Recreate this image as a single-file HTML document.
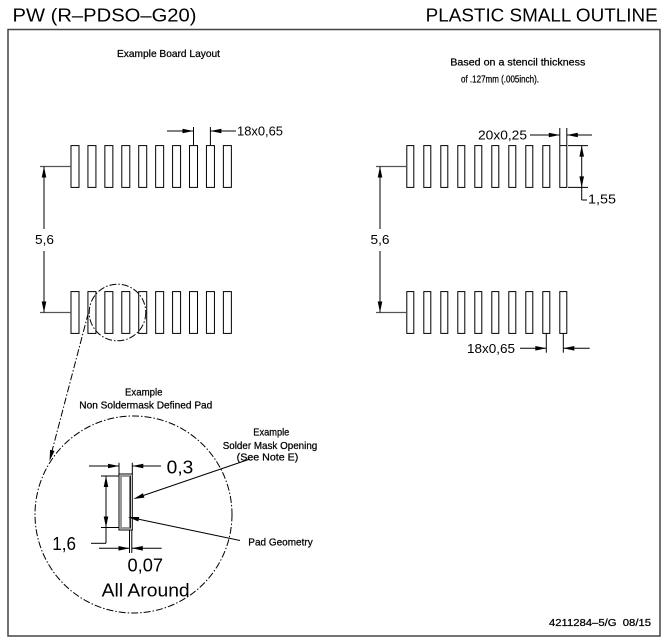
<!DOCTYPE html>
<html>
<head>
<meta charset="utf-8">
<style>
html,body{margin:0;padding:0;background:#fff;}
svg{display:block;}
text{font-family:"Liberation Sans",sans-serif;fill:#000;}
.big{font-size:18.7px;}
.dim{font-size:13px;}
.sm{font-size:10.3px;stroke:#000;stroke-width:0.25px;}
.ln{stroke:#000;stroke-width:1;fill:none;}
.gl{stroke:#555;stroke-width:1.3;fill:none;}
.pad{stroke:#000;stroke-width:1;fill:none;}
.dd{stroke:#000;stroke-width:1;fill:none;stroke-dasharray:7,2,1.5,2;}
</style>
</head>
<body>
<svg width="667" height="641" viewBox="0 0 667 641" xmlns="http://www.w3.org/2000/svg">
<rect x="0" y="0" width="667" height="641" fill="#fff"/>
<!-- titles -->
<text class="big" x="12.5" y="21.7" textLength="184" lengthAdjust="spacingAndGlyphs">PW (R–PDSO–G20)</text>
<text class="big" x="425.7" y="21.7" textLength="232" lengthAdjust="spacingAndGlyphs">PLASTIC SMALL OUTLINE</text>
<!-- border -->
<rect x="8" y="29.5" width="652" height="606.5" fill="none" stroke="#444" stroke-width="1.5"/>

<text class="sm" x="117" y="57" textLength="103" lengthAdjust="spacingAndGlyphs">Example Board Layout</text>
<text class="sm" x="450.3" y="65.5" textLength="135" lengthAdjust="spacingAndGlyphs">Based on a stencil thickness</text>
<text class="sm" x="461" y="82.5" textLength="78" lengthAdjust="spacingAndGlyphs">of .127mm (.005inch).</text>

<!-- left pads -->
<g class="pad">
<rect x="71" y="145.6" width="8" height="41.8"/>
<rect x="87.93" y="145.6" width="8" height="41.8"/>
<rect x="104.86" y="145.6" width="8" height="41.8"/>
<rect x="121.79" y="145.6" width="8" height="41.8"/>
<rect x="138.72" y="145.6" width="8" height="41.8"/>
<rect x="155.65" y="145.6" width="8" height="41.8"/>
<rect x="172.58" y="145.6" width="8" height="41.8"/>
<rect x="189.51" y="145.6" width="8" height="41.8"/>
<rect x="206.44" y="145.6" width="8" height="41.8"/>
<rect x="223.37" y="145.6" width="8" height="41.8"/>
<rect x="71" y="291.6" width="8" height="41.8"/>
<rect x="87.93" y="291.6" width="8" height="41.8"/>
<rect x="104.86" y="291.6" width="8" height="41.8"/>
<rect x="121.79" y="291.6" width="8" height="41.8"/>
<rect x="138.72" y="291.6" width="8" height="41.8"/>
<rect x="155.65" y="291.6" width="8" height="41.8"/>
<rect x="172.58" y="291.6" width="8" height="41.8"/>
<rect x="189.51" y="291.6" width="8" height="41.8"/>
<rect x="206.44" y="291.6" width="8" height="41.8"/>
<rect x="223.37" y="291.6" width="8" height="41.8"/>
</g>

<!-- left 5,6 -->
<line class="gl" x1="40" y1="166.5" x2="71" y2="166.5"/>
<line class="gl" x1="40" y1="312.5" x2="71" y2="312.5"/>
<line class="ln" x1="44" y1="166.5" x2="44" y2="229"/>
<line class="ln" x1="44" y1="251" x2="44" y2="312.5"/>
<polygon points="44,166.5 41.7,177.5 46.3,177.5"/>
<polygon points="44,312.5 41.7,301.5 46.3,301.5"/>
<text class="dim" x="35" y="244" textLength="19" lengthAdjust="spacingAndGlyphs">5,6</text>

<!-- top 18x0,65 -->
<line class="ln" x1="193.5" y1="127" x2="193.5" y2="145"/>
<line class="ln" x1="210.4" y1="127" x2="210.4" y2="145"/>
<line class="ln" x1="167" y1="131" x2="193.5" y2="131"/>
<polygon points="193.5,131 182.5,128.7 182.5,133.3"/>
<line class="ln" x1="236" y1="131" x2="210.4" y2="131"/>
<polygon points="210.4,131 221.4,128.7 221.4,133.3"/>
<text class="dim" x="237" y="135.6" textLength="46" lengthAdjust="spacingAndGlyphs">18x0,65</text>

<!-- small circle + leader -->
<circle class="dd" cx="117.5" cy="312.5" r="28.3"/>
<line class="dd" x1="88.3" y1="313" x2="51.5" y2="453"/>
<polygon points="49.5,461 54.5,451 50.1,449.8"/>

<!-- big circle -->
<circle class="dd" cx="133.5" cy="514.5" r="98.5"/>

<text class="sm" x="125" y="395.7" textLength="37.5" lengthAdjust="spacingAndGlyphs">Example</text>
<text class="sm" x="79.3" y="408.7" textLength="133" lengthAdjust="spacingAndGlyphs">Non Soldermask Defined Pad</text>

<text class="sm" x="253.3" y="435.7" textLength="36" lengthAdjust="spacingAndGlyphs">Example</text>
<text class="sm" x="222.7" y="449.2" textLength="94.6" lengthAdjust="spacingAndGlyphs">Solder Mask Opening</text>
<text class="sm" x="236.7" y="460.7" textLength="61.6" lengthAdjust="spacingAndGlyphs">(See Note E)</text>
<text class="sm" x="248.3" y="545.7" textLength="64.4" lengthAdjust="spacingAndGlyphs">Pad Geometry</text>

<!-- detail pad -->
<rect x="119" y="474" width="13.3" height="56" fill="none" stroke="#000" stroke-width="1"/>
<rect x="121" y="476" width="9" height="52" fill="none" stroke="#999" stroke-width="2"/>
<line class="ln" x1="130.3" y1="476" x2="130.3" y2="528"/>

<!-- 0,3 -->
<line class="ln" x1="119" y1="462.7" x2="119" y2="474"/>
<line class="ln" x1="132.3" y1="462.7" x2="132.3" y2="474"/>
<line class="ln" x1="89" y1="466" x2="119" y2="466"/>
<polygon points="119,466 108,463.7 108,468.3"/>
<line class="ln" x1="161" y1="466" x2="132.3" y2="466"/>
<polygon points="132.3,466 143.3,463.7 143.3,468.3"/>
<text class="big" x="166.7" y="473.7" textLength="26.6" lengthAdjust="spacingAndGlyphs">0,3</text>

<!-- 1,6 -->
<line class="ln" x1="101" y1="476" x2="119" y2="476"/>
<line class="ln" x1="101" y1="527.5" x2="119" y2="527.5"/>
<line class="ln" x1="106" y1="476" x2="106" y2="543.3"/>
<line class="ln" x1="106" y1="543.3" x2="91" y2="543.3"/>
<polygon points="106,476 103.7,487 108.3,487"/>
<polygon points="106,527.5 103.7,516.5 108.3,516.5"/>
<text class="big" x="52.3" y="550" textLength="23.7" lengthAdjust="spacingAndGlyphs">1,6</text>

<!-- 0,07 -->
<line class="ln" x1="129.5" y1="530" x2="129.5" y2="553"/>
<line class="ln" x1="131.8" y1="530" x2="131.8" y2="553"/>
<line class="ln" x1="99" y1="548.3" x2="129.5" y2="548.3"/>
<polygon points="129.5,548.3 118.5,546 118.5,550.6"/>
<line class="ln" x1="161.7" y1="548.3" x2="131.8" y2="548.3"/>
<polygon points="131.8,548.3 142.8,546 142.8,550.6"/>
<text class="big" x="127.5" y="571.7" textLength="35.5" lengthAdjust="spacingAndGlyphs">0,07</text>
<text class="big" x="101.7" y="596.7" textLength="88" lengthAdjust="spacingAndGlyphs">All Around</text>

<!-- leaders -->
<line class="ln" x1="250" y1="459" x2="143.7" y2="495.4"/>
<polygon points="133.3,499 144.45,497.6 142.95,493.2"/>
<line class="ln" x1="240" y1="540.5" x2="138.8" y2="519.3"/>
<polygon points="128,517 138.3,521.5 139.3,517"/>

<!-- right pads -->
<g class="pad">
<rect x="406.8" y="145.6" width="7" height="41.8"/>
<rect x="423.8" y="145.6" width="7" height="41.8"/>
<rect x="440.8" y="145.6" width="7" height="41.8"/>
<rect x="457.8" y="145.6" width="7" height="41.8"/>
<rect x="474.8" y="145.6" width="7" height="41.8"/>
<rect x="491.8" y="145.6" width="7" height="41.8"/>
<rect x="508.8" y="145.6" width="7" height="41.8"/>
<rect x="525.8" y="145.6" width="7" height="41.8"/>
<rect x="542.8" y="145.6" width="7" height="41.8"/>
<rect x="559.8" y="145.6" width="7" height="41.8"/>
<rect x="406.8" y="291.6" width="7" height="41.8"/>
<rect x="423.8" y="291.6" width="7" height="41.8"/>
<rect x="440.8" y="291.6" width="7" height="41.8"/>
<rect x="457.8" y="291.6" width="7" height="41.8"/>
<rect x="474.8" y="291.6" width="7" height="41.8"/>
<rect x="491.8" y="291.6" width="7" height="41.8"/>
<rect x="508.8" y="291.6" width="7" height="41.8"/>
<rect x="525.8" y="291.6" width="7" height="41.8"/>
<rect x="542.8" y="291.6" width="7" height="41.8"/>
<rect x="559.8" y="291.6" width="7" height="41.8"/>
</g>

<!-- right 5,6 -->
<line class="gl" x1="376" y1="166.5" x2="406.8" y2="166.5"/>
<line class="gl" x1="376" y1="312.5" x2="406.8" y2="312.5"/>
<line class="ln" x1="380" y1="166.5" x2="380" y2="229"/>
<line class="ln" x1="380" y1="251" x2="380" y2="312.5"/>
<polygon points="380,166.5 377.7,177.5 382.3,177.5"/>
<polygon points="380,312.5 377.7,301.5 382.3,301.5"/>
<text class="dim" x="370.5" y="244" textLength="19" lengthAdjust="spacingAndGlyphs">5,6</text>

<!-- 20x0,25 -->
<line class="ln" x1="559.8" y1="128" x2="559.8" y2="145"/>
<line class="ln" x1="566.8" y1="128" x2="566.8" y2="145"/>
<line class="ln" x1="530" y1="135" x2="559.8" y2="135"/>
<polygon points="559.8,135 548.8,132.7 548.8,137.3"/>
<line class="ln" x1="592" y1="135" x2="566.8" y2="135"/>
<polygon points="566.8,135 577.8,132.7 577.8,137.3"/>
<text class="dim" x="478" y="139.6" textLength="49" lengthAdjust="spacingAndGlyphs">20x0,25</text>

<!-- 1,55 -->
<line class="ln" x1="568" y1="145.6" x2="588" y2="145.6"/>
<line class="ln" x1="568" y1="187.4" x2="588" y2="187.4"/>
<line class="ln" x1="581.7" y1="145.6" x2="581.7" y2="200"/>
<line class="ln" x1="581.7" y1="200" x2="587" y2="200"/>
<polygon points="581.7,145.6 579.4,156.6 584,156.6"/>
<polygon points="581.7,187.4 579.4,176.4 584,176.4"/>
<text class="dim" x="588" y="203.6" textLength="28" lengthAdjust="spacingAndGlyphs">1,55</text>

<!-- bottom right 18x0,65 -->
<line class="ln" x1="546.3" y1="333.4" x2="546.3" y2="352.7"/>
<line class="ln" x1="563.3" y1="333.4" x2="563.3" y2="352.7"/>
<line class="ln" x1="520" y1="348.3" x2="546.3" y2="348.3"/>
<polygon points="546.3,348.3 535.3,346 535.3,350.6"/>
<line class="ln" x1="589.7" y1="348.3" x2="563.3" y2="348.3"/>
<polygon points="563.3,348.3 574.3,346 574.3,350.6"/>
<text class="dim" x="467" y="353" textLength="48" lengthAdjust="spacingAndGlyphs">18x0,65</text>

<text class="sm" x="549" y="626" textLength="102" lengthAdjust="spacingAndGlyphs" xml:space="preserve">4211284–5/G  08/15</text>
</svg>
</body>
</html>
